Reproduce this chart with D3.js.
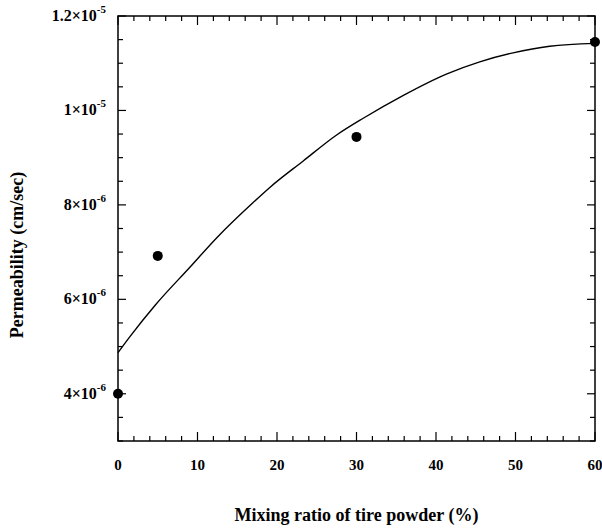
<!DOCTYPE html>
<html><head><meta charset="utf-8">
<script src="https://cdn.jsdelivr.net/npm/d3@7"></script>
<style>
body{margin:0;background:#fff;}
svg text{font-family:"Liberation Serif","DejaVu Serif",serif;font-weight:bold;fill:#000;}
</style></head>
<body><svg id="c" width="602" height="528"></svg>
<script>
// Measured data points
const mixRatio = [0, 5, 30, 60];
const permeability = [4.0e-6, 6.92e-6, 9.44e-6, 1.145e-5];
// Fitted curve
const curveX = [0, 1.5, 4.7, 9.1, 12.4, 17.0, 19.1, 23.3, 27.5, 30.9, 35.9, 41.3, 45.5, 49.7, 54.3, 60];
const curveY = [4.87e-6, 5.21e-6, 5.88e-6, 6.69e-6, 7.30e-6, 8.05e-6, 8.37e-6, 8.93e-6, 9.48e-6, 9.84e-6, 10.32e-6, 10.77e-6, 11.03e-6, 11.22e-6, 11.36e-6, 11.42e-6];
// Tick labels
const xTicks = [0, 10, 20, 30, 40, 50, 60];
const yTicks = [4e-6, 6e-6, 8e-6, 1e-5, 1.2e-5];
const yTickLabels = [["4","-6"],["6","-6"],["8","-6"],["1","-5"],["1.2","-5"]];

const svg = d3.select("#c");
const L=118, R=595, T=16, B=441;
const x = d3.scaleLinear().domain([0,60]).range([L,R]);
const y = d3.scaleLinear().domain([3e-6,1.2e-5]).range([B,T]);

// frame
svg.append("rect").attr("x",L).attr("y",T).attr("width",R-L).attr("height",B-T)
  .attr("fill","none").attr("stroke","#000").attr("stroke-width",1.5);

// x ticks (bottom & top, inward)
const xMinor = d3.range(0,61,2);
xMinor.forEach(v=>{
  const major = v%10===0;
  const len = major?9:5;
  svg.append("line").attr("x1",x(v)).attr("x2",x(v)).attr("y1",B).attr("y2",B-len).attr("stroke","#000").attr("stroke-width",1.2);
  svg.append("line").attr("x1",x(v)).attr("x2",x(v)).attr("y1",T).attr("y2",T+len).attr("stroke","#000").attr("stroke-width",1.2);
});
// y ticks
const yMinor = d3.range(0,19).map(i=>3e-6+i*0.5e-6);
yMinor.forEach(v=>{
  const major = yTicks.some(t=>Math.abs(t-v)<1e-9);
  const len = major?8:5;
  svg.append("line").attr("x1",L).attr("x2",L+len).attr("y1",y(v)).attr("y2",y(v)).attr("stroke","#000").attr("stroke-width",1.2);
  svg.append("line").attr("x1",R).attr("x2",R-len).attr("y1",y(v)).attr("y2",y(v)).attr("stroke","#000").attr("stroke-width",1.2);
});

// x tick labels
svg.selectAll(".xl").data(xTicks).enter().append("text")
  .attr("x",d=>x(d)).attr("y",470).attr("text-anchor","middle").attr("font-size",15).text(d=>d);

// y tick labels
yTicks.forEach((v,i)=>{
  const t = svg.append("text").attr("x",106).attr("y",y(v)+5).attr("text-anchor","end").attr("font-size",16);
  t.append("tspan").text(yTickLabels[i][0]+"\u00d710");
  t.append("tspan").attr("dy",-8).attr("font-size",11).text(yTickLabels[i][1]);
});

// axis titles
svg.append("text").attr("x",(L+R)/2).attr("y",521).attr("text-anchor","middle").attr("font-size",18)
  .text("Mixing ratio of tire powder (%)");
svg.append("text").attr("transform","translate(23,255) rotate(-90)").attr("text-anchor","middle").attr("font-size",18)
  .text("Permeability (cm/sec)");

// curve
const line = d3.line().x(d=>x(d[0])).y(d=>y(d[1])).curve(d3.curveMonotoneX);
svg.append("path").datum(curveX.map((v,i)=>[v,curveY[i]])).attr("d",line)
  .attr("fill","none").attr("stroke","#000").attr("stroke-width",1.4);

// points
svg.selectAll(".pt").data(mixRatio.map((v,i)=>[v,permeability[i]])).enter().append("circle")
  .attr("cx",d=>x(d[0])).attr("cy",d=>y(d[1])).attr("r",5).attr("fill","#000");
</script></body></html>
